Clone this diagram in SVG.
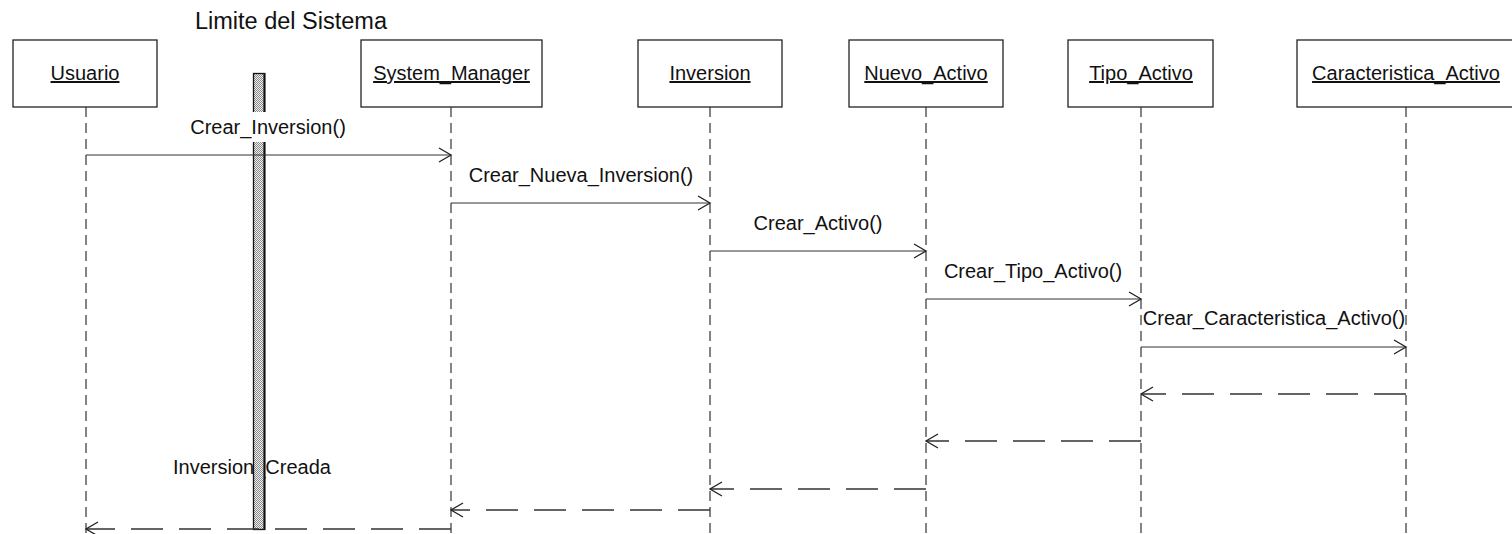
<svg xmlns="http://www.w3.org/2000/svg" width="1512" height="534" viewBox="0 0 1512 534">
  <style>
    .box { fill: #ffffff; stroke: #222; stroke-width: 1.3; }
    .name { font-family: "Liberation Sans", Arial, sans-serif; font-size: 20px; fill: #111; text-anchor: middle; text-decoration: underline; }
    .life { stroke: #333; stroke-width: 1.2; stroke-dasharray: 10 6; fill: none; }
    .msg { stroke: #333; stroke-width: 1.2; fill: none; marker-end: url(#open); }
    .ret { stroke: #333; stroke-width: 1.3; fill: none; stroke-dasharray: 32 16; marker-end: url(#open); }
    .lbl { font-family: "Liberation Sans", Arial, sans-serif; font-size: 20px; fill: #111; text-anchor: middle; }
  </style>
  <defs>
    <marker id="open" markerWidth="16" markerHeight="16" refX="13" refY="8" orient="auto" markerUnits="userSpaceOnUse">
      <path d="M1 1 L13 8 L1 15" fill="none" stroke="#222" stroke-width="1.3"/>
    </marker>
    <!-- fine checkered fill for the boundary bar -->
    <pattern id="hatch" width="2" height="2" patternUnits="userSpaceOnUse">
      <rect width="2" height="2" fill="#eeeeee"/>
      <rect x="0" y="0" width="1" height="1" fill="#8a8a8a"/>
      <rect x="1" y="1" width="1" height="1" fill="#8a8a8a"/>
    </pattern>
  </defs>

  <rect width="1512" height="534" fill="#ffffff"/>

  <!-- system boundary caption -->
  <text x="291" y="29" font-family="Liberation Sans, Arial, sans-serif" font-size="23.5" fill="#111" text-anchor="middle">Limite del Sistema</text>

  <!-- objects with their lifelines -->
  <g id="usuario">
    <rect class="box" x="13" y="40" width="144" height="67"/>
    <text class="name" x="85" y="80">Usuario</text>
    <line class="life" x1="86" y1="107" x2="86" y2="534"/>
  </g>
  <g id="system_manager">
    <rect class="box" x="361" y="40" width="181" height="67"/>
    <text class="name" x="451.5" y="80">System_Manager</text>
    <line class="life" x1="451" y1="107" x2="451" y2="534"/>
  </g>
  <g id="inversion">
    <rect class="box" x="638" y="40" width="144" height="67"/>
    <text class="name" x="710" y="80">Inversion</text>
    <line class="life" x1="710" y1="107" x2="710" y2="534"/>
  </g>
  <g id="nuevo_activo">
    <rect class="box" x="849" y="40" width="154" height="67"/>
    <text class="name" x="926" y="80">Nuevo_Activo</text>
    <line class="life" x1="926" y1="107" x2="926" y2="534"/>
  </g>
  <g id="tipo_activo">
    <rect class="box" x="1068" y="40" width="145" height="67"/>
    <text class="name" x="1141" y="80">Tipo_Activo</text>
    <line class="life" x1="1141" y1="107" x2="1141" y2="534"/>
  </g>
  <g id="caracteristica_activo">
    <rect class="box" x="1297" y="40" width="220" height="67"/>
    <text class="name" x="1406" y="80">Caracteristica_Activo</text>
    <line class="life" x1="1406" y1="107" x2="1406" y2="534"/>
  </g>

  <!-- return label sits under the boundary bar -->
  <text class="lbl" x="252" y="474">Inversion_Creada</text>

  <!-- system boundary bar -->
  <g id="limite_sistema">
    <rect x="253.5" y="73.5" width="11" height="456" fill="url(#hatch)" stroke="#111" stroke-width="1.3"/>
    <line x1="264.5" y1="73" x2="264.5" y2="530" stroke="#111" stroke-width="2"/>
  </g>

  <!-- messages -->
  <g id="connectors">
    <rect x="186" y="112" width="164" height="30" fill="#ffffff"/>
    <text class="lbl" x="268" y="134">Crear_Inversion()</text>
    <line class="msg" x1="86" y1="155" x2="451" y2="155"/>

    <text class="lbl" x="581" y="182">Crear_Nueva_Inversion()</text>
    <line class="msg" x1="451" y1="203" x2="710" y2="203"/>

    <text class="lbl" x="818" y="230">Crear_Activo()</text>
    <line class="msg" x1="710" y1="251" x2="926" y2="251"/>

    <text class="lbl" x="1033" y="278">Crear_Tipo_Activo()</text>
    <line class="msg" x1="926" y1="299" x2="1141" y2="299"/>

    <text class="lbl" x="1274" y="325">Crear_Caracteristica_Activo()</text>
    <line class="msg" x1="1141" y1="347" x2="1406" y2="347"/>

    <line class="ret" x1="1406" y1="394" x2="1141" y2="394"/>
    <line class="ret" x1="1141" y1="441" x2="926" y2="441"/>
    <line class="ret" x1="926" y1="489" x2="710" y2="489"/>
    <line class="ret" x1="710" y1="510" x2="451" y2="510"/>
    <line class="ret" x1="451" y1="529" x2="86" y2="529"/>
  </g>
</svg>
